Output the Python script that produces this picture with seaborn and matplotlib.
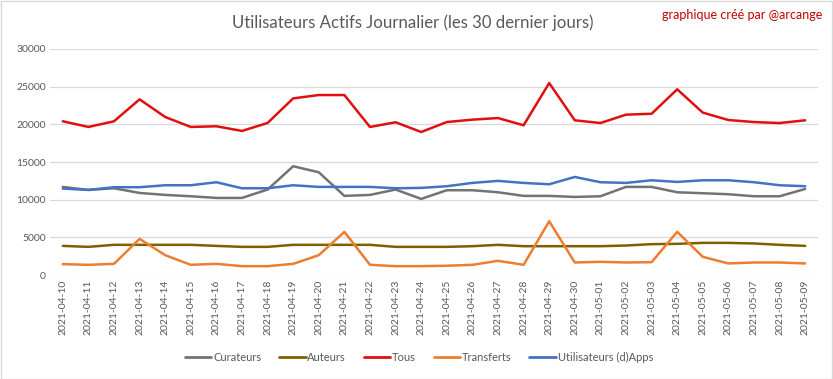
import pandas as pd
import matplotlib.pyplot as plt
import seaborn as sns
from matplotlib.patches import Rectangle

# -----------------------------------------
# Data
# -----------------------------------------
dates = pd.date_range("2021-04-10", "2021-05-09").strftime("%Y-%m-%d").tolist()

curateurs = [11700, 11300, 11520, 10900, 10640, 10460, 10240, 10240, 11350, 14440,
             13640, 10510, 10640, 11350, 10110, 11260, 11260, 10990, 10510, 10510,
             10370, 10460, 11700, 11700, 10990, 10860, 10730, 10460, 10460, 11430]
auteurs = [3880, 3750, 4020, 4020, 4020, 4020, 3880, 3750, 3750, 4020,
           4020, 4020, 4020, 3750, 3750, 3750, 3840, 4020, 3840, 3840,
           3840, 3840, 3930, 4110, 4150, 4280, 4280, 4200, 4020, 3880]
tous = [20400, 19650, 20400, 23310, 20970, 19650, 19740, 19120, 20180, 23440,
        23880, 23880, 19650, 20270, 18980, 20300, 20620, 20830, 19870, 25470,
        20530, 20170, 21280, 21400, 24640, 21550, 20570, 20300, 20170, 20530]
transferts = [1460, 1370, 1500, 4810, 2650, 1370, 1500, 1190, 1190, 1500,
              2650, 5740, 1370, 1190, 1190, 1250, 1370, 1900, 1370, 7150,
              1680, 1770, 1680, 1720, 5740, 2430, 1550, 1680, 1680, 1550]
apps = [11480, 11300, 11660, 11660, 11920, 11920, 12320, 11520, 11520, 11920,
        11700, 11700, 11700, 11520, 11570, 11790, 12230, 12500, 12230, 12050,
        13020, 12320, 12230, 12580, 12360, 12580, 12580, 12320, 11920, 11790]

series_names = ["Curateurs", "Auteurs", "Tous", "Transferts", "Utilisateurs (d)Apps"]
series_values = [curateurs, auteurs, tous, transferts, apps]
colors = ["#737373", "#7f6000", "#e01010", "#ed7d31", "#4472c4"]

rows = []
for name, vals in zip(series_names, series_values):
    for i, v in enumerate(vals):
        rows.append({"idx": i, "date": dates[i], "serie": name, "valeur": v})
data = pd.DataFrame(rows)

# -----------------------------------------
# Plot
# -----------------------------------------
sns.set_style("white")
plt.rcParams['font.family'] = ['Lato', 'DejaVu Sans']

fig = plt.figure(figsize=(8.33, 3.79), dpi=100)
ax = fig.add_axes([0.060, 0.274, 0.922, 0.597])

sns.lineplot(data=data, x="idx", y="valeur", hue="serie", hue_order=series_names,
             palette=colors, linewidth=1.8, ax=ax, legend=False)

ax.set_xlim(-0.5, len(dates) - 0.5)
ax.set_ylim(0, 30000)
ax.set_yticks(range(0, 30001, 5000))
ax.set_xticks(range(len(dates)))
ax.set_xticklabels(dates, rotation=90)
ax.tick_params(axis="both", labelsize=7.5, colors="#595959", length=0, pad=3)
ax.grid(axis="y", color="#d9d9d9", linewidth=0.9)
ax.set_axisbelow(True)
for s in ax.spines.values():
    s.set_visible(False)
ax.set_xlabel("")
ax.set_ylabel("")

fig.text(0.495, 0.939, "Utilisateurs Actifs Journalier (les 30 dernier jours)",
         ha="center", va="center", fontsize=12.1, color="#595959")
fig.text(0.987, 0.96, "graphique créé par @arcange", ha="right", va="center",
         fontsize=9, color="#c00000")

handles = [plt.Line2D([], [], color=c, linewidth=2) for c in colors]
fig.legend(handles, series_names, loc="center", bbox_to_anchor=(0.503, 0.056), ncol=5,
           frameon=False, fontsize=8, handlelength=2.4, handletextpad=0.15,
           columnspacing=1.6, labelcolor="#595959")

fig.patches.append(Rectangle((0.001, 0.001), 0.998, 0.997, transform=fig.transFigure,
                             fill=False, edgecolor="#d9d9d9", linewidth=1))

plt.savefig("out.png", dpi=100)
plt.close()
